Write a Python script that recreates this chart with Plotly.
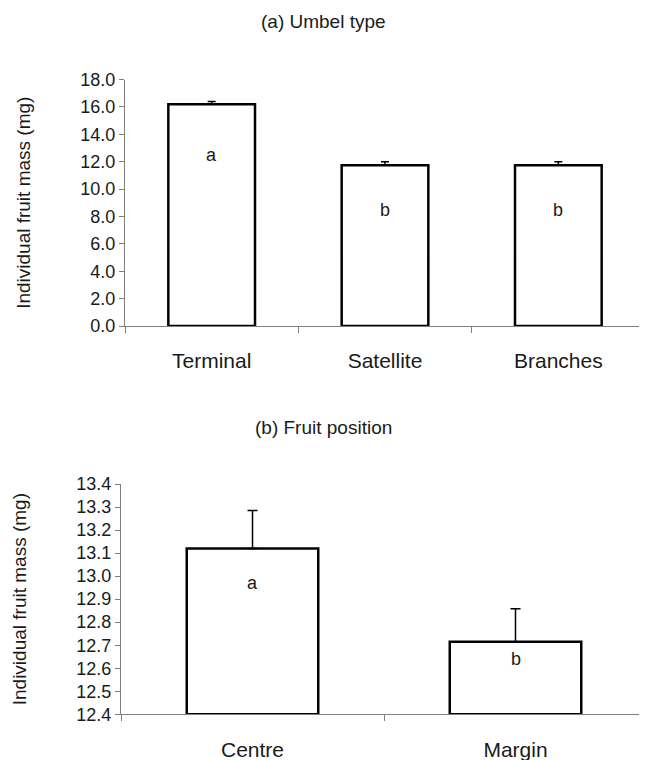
import plotly.graph_objects as go

# ---- data ----
umbel_categories = ["Terminal", "Satellite", "Branches"]
umbel_means = [16.2, 11.73, 11.73]
umbel_errors = [0.2, 0.27, 0.27]
umbel_letters = ["a", "b", "b"]
umbel_letter_y = [12.5, 8.5, 8.5]

position_categories = ["Centre", "Margin"]
position_means = [13.12, 12.715]
position_errors = [0.165, 0.143]
position_letters = ["a", "b"]
position_letter_y = [12.97, 12.64]

panel_titles = ["(a) Umbel type", "(b) Fruit position"]
y_title = "Individual fruit mass (mg)"

FONT = "Liberation Sans, Arial, sans-serif"
TXT = "#1a1a1a"
AXC = "#7f7f7f"
OFF = 8  # default page body margin
W, H = 647 - OFF, 760 - OFF


def px(x):
    return (x - OFF) / W


def py(y):
    return 1 - (y - OFF) / H


fig = go.Figure()

fig.add_trace(go.Bar(
    x=umbel_categories, y=umbel_means, width=0.5,
    marker=dict(color="white", line=dict(color="black", width=2.5)),
    error_y=dict(type="data", symmetric=False, array=umbel_errors,
                 arrayminus=[0] * len(umbel_errors),
                 color="black", thickness=1.5, width=4),
    xaxis="x", yaxis="y", showlegend=False,
))

pos_base = 12.4
fig.add_trace(go.Bar(
    x=position_categories, y=[m - pos_base for m in position_means],
    base=pos_base, width=0.5,
    marker=dict(color="white", line=dict(color="black", width=2.5)),
    error_y=dict(type="data", symmetric=False, array=position_errors,
                 arrayminus=[0] * len(position_errors),
                 color="black", thickness=1.5, width=5),
    xaxis="x2", yaxis="y2", showlegend=False,
))

annotations = []
for c, l, yv in zip(umbel_categories, umbel_letters, umbel_letter_y):
    annotations.append(dict(x=c, y=yv, xref="x", yref="y", text=l, showarrow=False,
                            font=dict(family=FONT, size=18, color=TXT)))
for c, l, yv in zip(position_categories, position_letters, position_letter_y):
    annotations.append(dict(x=c, y=yv, xref="x2", yref="y2", text=l, showarrow=False,
                            font=dict(family=FONT, size=18, color=TXT)))

annotations.append(dict(x=px(323), y=py(22), xref="paper", yref="paper",
                        xanchor="center", yanchor="middle",
                        text=panel_titles[0], showarrow=False,
                        font=dict(family=FONT, size=19, color=TXT)))
annotations.append(dict(x=px(323), y=py(427), xref="paper", yref="paper",
                        xanchor="center", yanchor="middle",
                        text=panel_titles[1], showarrow=False,
                        font=dict(family=FONT, size=19, color=TXT)))

xcommon = dict(type="category", showline=True, linecolor=AXC, linewidth=1,
               ticks="outside", tickson="boundaries", ticklen=6, tickcolor=AXC,
               showgrid=False, zeroline=False, ticklabelstandoff=16, automargin=False,
               tickfont=dict(family=FONT, size=21, color=TXT))
ycommon = dict(showline=True, linecolor=AXC, linewidth=1, ticks="outside",
               ticklen=5, tickcolor=AXC, showgrid=False, zeroline=False, automargin=False,
               tickformat=".1f", tickfont=dict(family=FONT, size=18, color=TXT),
               title=dict(text=y_title, font=dict(family=FONT, size=19, color=TXT),
                          standoff=44))

fig.update_layout(
    width=W, height=H,
    margin=dict(l=0, r=0, t=0, b=0, autoexpand=False),
    paper_bgcolor="white", plot_bgcolor="white",
    bargap=0.5,
    xaxis=dict(**xcommon, domain=[px(125), px(645)], anchor="y"),
    yaxis=dict(**ycommon, domain=[py(326), py(79.5)], range=[0, 18],
               tick0=0, dtick=2, anchor="x"),
    xaxis2=dict(**xcommon, domain=[px(121), 1.0], anchor="y2"),
    yaxis2=dict(**ycommon, domain=[py(714.3), py(484)], range=[12.4, 13.4],
                tick0=12.4, dtick=0.1, anchor="x2"),
    annotations=annotations,
)

fig.write_html("out.html")
